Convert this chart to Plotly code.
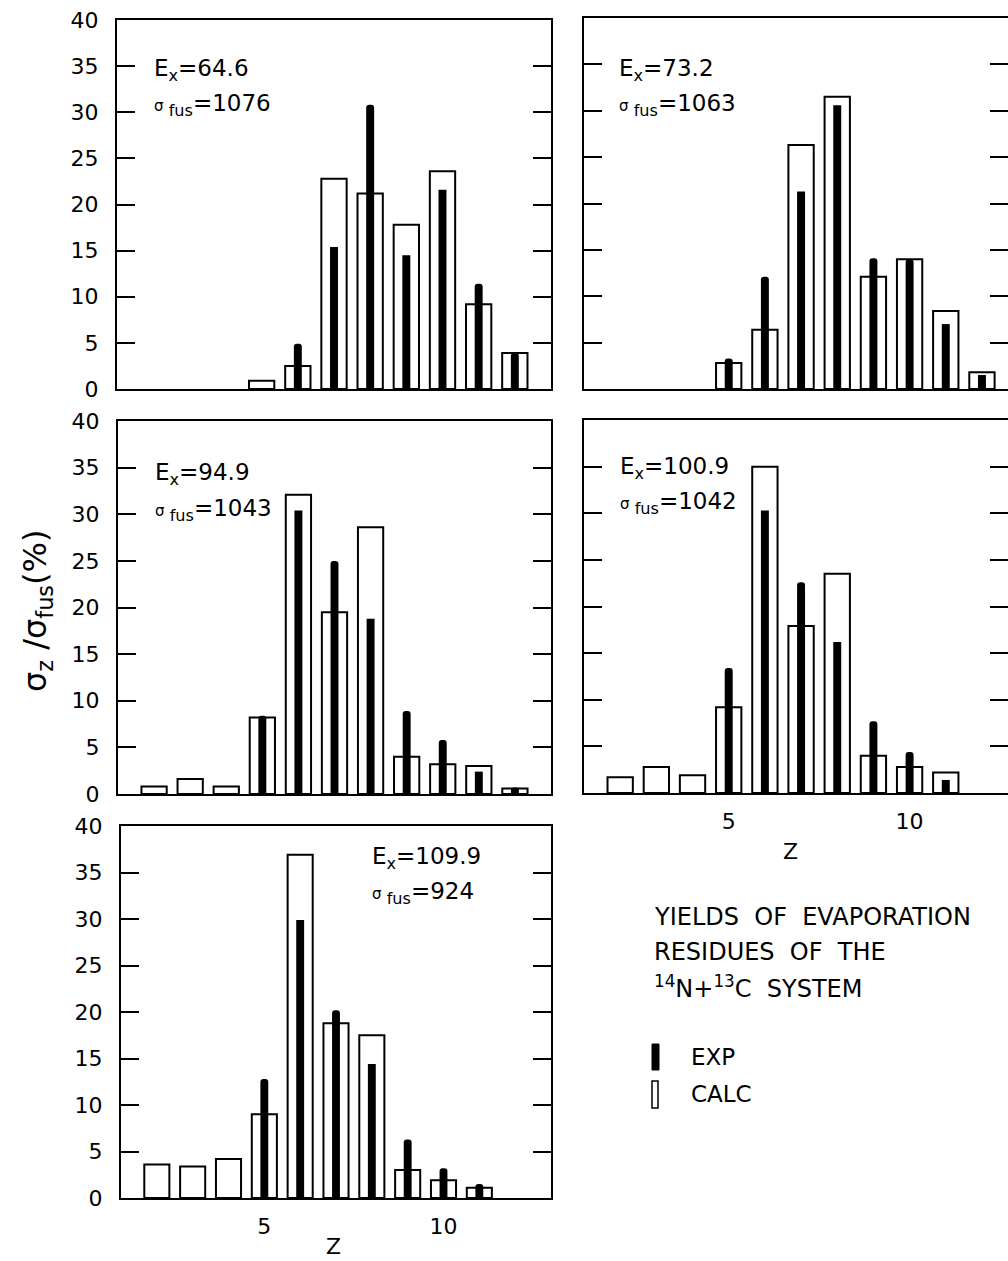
import plotly.graph_objects as go

# ---- data: sigma_Z / sigma_fus (%) for the 14N + 13C evaporation residues ----
panel_ex = ["64.6", "73.2", "94.9", "100.9", "109.9"]
panel_sfus = ["1076", "1063", "1043", "1042", "924"]

calc_z_1 = [5, 6, 7, 8, 9, 10, 11, 12]
calc_v_1 = [0.9, 2.5, 22.8, 21.2, 17.8, 23.6, 9.2, 3.9]
exp_z_1 = [6, 7, 8, 9, 10, 11, 12]
exp_v_1 = [4.9, 15.4, 30.8, 14.5, 21.6, 11.4, 3.9]

calc_z_2 = [5, 6, 7, 8, 9, 10, 11, 12]
calc_v_2 = [2.8, 6.4, 26.3, 31.5, 12.1, 14.0, 8.4, 1.8]
exp_z_2 = [5, 6, 7, 8, 9, 10, 11, 12]
exp_v_2 = [3.3, 12.1, 21.3, 30.6, 14.1, 14.0, 7.0, 1.5]

calc_z_3 = [2, 3, 4, 5, 6, 7, 8, 9, 10, 11, 12]
calc_v_3 = [0.8, 1.6, 0.8, 8.2, 32.1, 19.5, 28.6, 4.0, 3.2, 3.0, 0.6]
exp_z_3 = [5, 6, 7, 8, 9, 10, 11, 12]
exp_v_3 = [8.4, 30.4, 25.0, 18.8, 8.9, 5.8, 2.4, 0.7]

calc_z_4 = [2, 3, 4, 5, 6, 7, 8, 9, 10, 11]
calc_v_4 = [1.7, 2.8, 1.9, 9.2, 35.0, 17.9, 23.5, 4.0, 2.8, 2.2]
exp_z_4 = [5, 6, 7, 8, 9, 10, 11]
exp_v_4 = [13.4, 30.3, 22.6, 16.2, 7.7, 4.4, 1.4]

calc_z_5 = [2, 3, 4, 5, 6, 7, 8, 9, 10, 11]
calc_v_5 = [3.6, 3.4, 4.2, 9.0, 36.9, 18.8, 17.5, 3.0, 1.9, 1.1]
exp_z_5 = [5, 6, 7, 8, 9, 10, 11]
exp_v_5 = [12.8, 29.9, 20.2, 14.4, 6.3, 3.2, 1.5]

y_ticks = [0, 5, 10, 15, 20, 25, 30, 35, 40]
z_ticks = [5, 10]

calc_sets = [(calc_z_1, calc_v_1), (calc_z_2, calc_v_2), (calc_z_3, calc_v_3),
             (calc_z_4, calc_v_4), (calc_z_5, calc_v_5)]
exp_sets = [(exp_z_1, exp_v_1), (exp_z_2, exp_v_2), (exp_z_3, exp_v_3),
            (exp_z_4, exp_v_4), (exp_z_5, exp_v_5)]

# ---- page geometry (pixels) ----
W, H = 1008, 1261
FONT = "DejaVu Sans"


def px(x):
    return x / W


def py(y):
    return 1 - y / H


# left, right, top, bottom of each frame, x range, show Z labels, show y labels
panels = [
    dict(l=117, r=551, t=20, b=389, xr=[1, 13], zlab=False, ylab=True),
    dict(l=584, r=1008, t=18, b=389, xr=[1, 12.72], zlab=False, ylab=False),
    dict(l=118, r=551, t=421, b=794, xr=[1, 13], zlab=False, ylab=True),
    dict(l=584, r=1008, t=420, b=793, xr=[1, 12.72], zlab=True, ylab=False),
    dict(l=121, r=551, t=826, b=1198, xr=[1, 13], zlab=True, ylab=True),
]

fig = go.Figure()
layout = dict(
    width=W, height=H, margin=dict(l=0, r=0, t=0, b=0, autoexpand=False),
    paper_bgcolor="white", plot_bgcolor="white",
    showlegend=False, barmode="overlay",
    font=dict(family=FONT, color="black", size=22),
)

for i, p in enumerate(panels):
    n = "" if i == 0 else str(i + 1)
    xa, ya = "x" + n, "y" + n
    cz, cv = calc_sets[i]
    ez, ev = exp_sets[i]
    fig.add_trace(go.Bar(
        x=cz, y=cv, width=0.7, xaxis=xa, yaxis=ya, name="CALC",
        marker=dict(color="white", line=dict(color="black", width=2)),
    ))
    fig.add_trace(go.Bar(
        x=ez, y=ev, width=0.22, xaxis=xa, yaxis=ya, name="EXP",
        marker=dict(color="black", line=dict(color="black", width=0), cornerradius=3),
    ))
    layout["xaxis" + n] = dict(
        domain=[px(p["l"]), px(p["r"])], range=p["xr"], anchor=ya,
        showline=True, linecolor="black", linewidth=2, mirror=True,
        ticks="", showgrid=False, zeroline=False, automargin=False,
        tickvals=z_ticks, showticklabels=p["zlab"],
        tickfont=dict(family=FONT, size=22), ticklabelstandoff=8,
    )
    layout["yaxis" + n] = dict(
        domain=[py(p["b"]), py(p["t"])], range=[0, 40], anchor=xa,
        showline=True, linecolor="black", linewidth=2, mirror="ticks",
        ticks="inside", ticklen=18, tickwidth=2, tickcolor="black",
        showgrid=False, zeroline=False, automargin=False,
        tickvals=y_ticks, showticklabels=p["ylab"],
        tickfont=dict(family=FONT, size=22), ticklabelstandoff=12,
    )

fig.update_layout(**layout)

# ---- panel labels ----
label_pos = [(152, 70, 105), (617, 70, 105), (153, 474, 510), (618, 468, 503), (370, 858, 893)]
for (x0, y1, y2), ex, sf in zip(label_pos, panel_ex, panel_sfus):
    fig.add_annotation(xref="paper", yref="paper", x=px(x0), y=py(y1),
                       xanchor="left", yanchor="middle", showarrow=False,
                       text="E<sub>x</sub>=" + ex, font=dict(size=23))
    fig.add_annotation(xref="paper", yref="paper", x=px(x0), y=py(y2),
                       xanchor="left", yanchor="middle", showarrow=False,
                       text="<span style='font-size:15px'>σ</span><sub> fus</sub>=" + sf,
                       font=dict(size=23))

# Z axis titles (bottom-anchored so the lower one stays on the page)
for y_pix, x_pix in [(1261, 333), (866, 790)]:
    fig.add_annotation(xref="paper", yref="paper", x=px(x_pix), y=py(y_pix),
                       xanchor="center", yanchor="bottom", showarrow=False,
                       text="Z", font=dict(size=22))

# shared y title
fig.add_annotation(xref="paper", yref="paper", x=px(37), y=py(611),
                   xanchor="center", yanchor="middle", showarrow=False, textangle=-90,
                   text="σ<sub>z</sub> /σ<sub>fus</sub>(%)", font=dict(size=32))

# caption block
caption = ["YIELDS  OF  EVAPORATION", "RESIDUES  OF  THE",
           "<sup>14</sup>N+<sup>13</sup>C  SYSTEM"]
for line, y_pix in zip(caption, [917, 952, 987]):
    fig.add_annotation(xref="paper", yref="paper", x=px(652), y=py(y_pix),
                       xanchor="left", yanchor="middle", showarrow=False,
                       text=line, font=dict(size=24))

# key
fig.add_shape(type="rect", xref="paper", yref="paper",
              x0=px(652), x1=px(659), y0=py(1070), y1=py(1044),
              fillcolor="black", line=dict(color="black", width=1))
fig.add_shape(type="rect", xref="paper", yref="paper",
              x0=px(652), x1=px(658), y0=py(1108), y1=py(1081),
              fillcolor="white", line=dict(color="black", width=1.5))
for t, y_pix in [("EXP", 1057), ("CALC", 1094)]:
    fig.add_annotation(xref="paper", yref="paper", x=px(689), y=py(y_pix),
                       xanchor="left", yanchor="middle", showarrow=False,
                       text=t, font=dict(size=23))

fig.write_html("out.html")
